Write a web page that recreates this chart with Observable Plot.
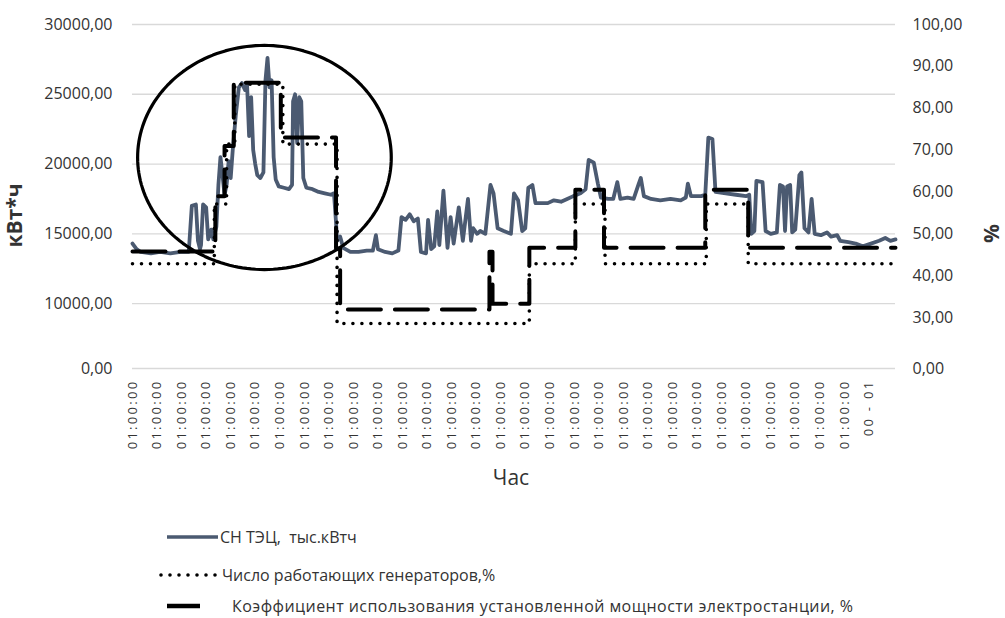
<!DOCTYPE html>
<html><head><meta charset="utf-8">
<script src="https://cdn.jsdelivr.net/npm/d3@7"></script>
<script src="https://cdn.jsdelivr.net/npm/@observablehq/plot@0.6"></script>
<style>
body{margin:0;background:#fff;font-family:"Open Sans",sans-serif;}
#chart{position:relative;width:1005px;height:618px;overflow:hidden;background:#fff}
g[aria-label="x-axis tick label"] text{letter-spacing:2.3px}
.leg{position:absolute;left:0;font-size:16px;color:#333;white-space:nowrap;line-height:20px}
</style></head><body><div id="chart"></div>
<script>
// СН ТЭЦ, тыс.кВтч (hour index, value)
const hours = [0,4,8,18,27,37,47,55,58,62,64,66,67,69,72,74,77,79,82,84,86,88,90,92,94,96,98,101,104,107,110,112,114,116,118,120,122,125,128,130,132,134,136,138,140,143,148,153,156,157,159,161,163,165,167,170,176,182,188,194,197,199,200,203,206,213,221,229,235,238,240,247,254,260,263,267,271,275,279,282,287,289,292,295,298,300,304,308,311,314,319,323,328,331,333,337,340,345,350,353,357,363,370,373,377,381,384,387,391,394,399,406,412,419,425,431,438,443,446,451,455,458,465,470,474,477,484,490,495,497,500,507,516,526,536,541,543,546,556,560,563,567,570,580,590,600,603,605,608,610,616,619,624,630,633,636,638,640,643,645,648,652,654,657,661,664,667,673,679,683,689,692,700,707,714,722,730,736,741,746];
const snValues = [14300,13900,13700,13600,13700,13600,13700,13700,17000,17100,14500,13900,14200,17100,16900,14600,15300,14600,15500,18500,20500,19200,17800,18500,20200,19000,21000,23500,25500,25800,25300,25700,22000,24800,21000,20000,19200,19000,19400,26000,27600,25500,26000,20500,18900,18400,18300,18200,18500,24500,25000,21500,24800,24500,19000,18300,18200,18000,17900,17800,17900,15800,14500,14800,14000,13700,13700,13800,13800,14900,13900,13700,13600,13800,16200,16000,16400,15900,16100,13700,13600,16000,13900,14100,16600,14200,18100,14000,16200,14300,16900,14500,17500,14500,15400,15000,15200,15000,18500,17900,15400,15200,15000,17900,17400,15200,15400,18300,18500,17200,17200,17200,17400,17300,17500,17700,17900,18200,20300,20100,18600,17600,17500,17500,18700,17500,17600,17500,18600,19000,17700,17500,17400,17500,17400,17600,18600,17700,17700,17800,21900,21800,18000,17900,17800,17700,17800,15000,15200,18800,18700,15200,15000,15100,18500,18400,15200,18400,18500,15100,15300,19200,19400,15400,15100,17500,15000,14900,15100,14800,14900,14500,14400,14300,14100,14300,14500,14700,14500,14600];
// Число работающих генераторов, % (step changes)
const genHours = [0,80,92,100,147,200,388,433,462,561,602,742];
const genPct = [42.86,57.14,71.43,85.71,71.43,28.57,42.86,57.14,42.86,57.14,42.86,42.86];
// Коэффициент использования установленной мощности, % (step changes)
const kiumHours = [0,81,90,99,145,199,203,349,352,388,433,461,560,602,746];
const kiumPct = [45.8,59.0,71.0,86.1,73.0,46.5,31.9,45.7,33.3,46.7,60.5,46.7,60.5,46.7,46.7];

const leftTicks = [0,10000,15000,20000,25000,30000];
const rightTicks = [0,30,40,50,60,70,80,90,100];
const xTickHours = [0,24,48,72,96,120,144,168,192,216,240,264,288,312,336,360,384,408,432,456,480,504,528,552,576,600,624,648,672,696,720];
const xTickLabels = ["01:00:00","01:00:00","01:00:00","01:00:00","01:00:00","01:00:00","01:00:00","01:00:00","01:00:00","01:00:00","01:00:00","01:00:00","01:00:00","01:00:00","01:00:00","01:00:00","01:00:00","01:00:00","01:00:00","01:00:00","01:00:00","01:00:00","01:00:00","01:00:00","01:00:00","01:00:00","01:00:00","01:00:00","01:00:00","01:00:00","00 - 01"];
const PCT_TO_KWH = 300; // right axis: 100% ↔ 30000
// axis break (as in the original): values below BREAK are compressed by factor SQUEEZE
const BREAK = 8000, SQUEEZE = 0.3314;
// highlight ellipse (center hour, center value, radius in hours, radius in value)
const ellipse = {cx:129, cy:20470, rx:124, ry:8030};

const brk = v => v >= BREAK ? v : BREAK - (BREAK - v)*SQUEEZE;
const unbrk = t => t >= BREAK ? t : BREAK - (BREAK - t)/SQUEEZE;
const fmt = d => (Math.round(d*100)/100 + 0).toFixed(2).replace(".", ",");

const sn = hours.map((h,i)=>({h, v:snValues[i]}));
const gen = genHours.map((h,i)=>({h, v:genPct[i]*PCT_TO_KWH}));
const kium = kiumHours.map((h,i)=>({h, v:kiumPct[i]*PCT_TO_KWH}));
const ell = d3.range(0, 361, 2).map(a=>({h: ellipse.cx + ellipse.rx*Math.cos(a*Math.PI/180), v: ellipse.cy + ellipse.ry*Math.sin(a*Math.PI/180)}));
const Y = d => brk(d.v);

const plot = Plot.plot({
  width:1005, height:505, marginLeft:132, marginRight:110, marginTop:24, marginBottom:137,
  style:{fontFamily:"'Open Sans', sans-serif", color:"#333", background:"transparent", overflow:"visible"},
  x:{domain:[0,746], axis:null},
  y:{domain:[brk(0),30000], axis:null},
  marks:[
    Plot.gridY(leftTicks.map(brk), {stroke:"#d9d9d9", strokeOpacity:1, strokeWidth:1.3}),
    Plot.axisY({anchor:"left", ticks:leftTicks.map(brk), tickSize:0, tickPadding:20, tickFormat:d=>fmt(Math.abs(unbrk(d))), label:null, fontSize:16}),
    Plot.axisY({anchor:"right", ticks:rightTicks.map(p=>brk(p*PCT_TO_KWH)), tickSize:0, tickPadding:17, tickFormat:d=>fmt(Math.abs(unbrk(d))/PCT_TO_KWH), label:null, fontSize:16}),
    Plot.axisX({ticks:xTickHours, tickFormat:d=>xTickLabels[xTickHours.indexOf(d)], tickRotate:-90, tickSize:0, tickPadding:11, label:null, fontSize:13}),
    Plot.line(sn, {x:"h", y:Y, stroke:"#4b5a71", strokeWidth:3.8, strokeLinejoin:"round"}),
    Plot.line(gen, {x:"h", y:Y, curve:"step-after", stroke:"#000", strokeWidth:3.6, strokeDasharray:"0 9", strokeLinecap:"round"}),
    Plot.line(kium, {x:"h", y:Y, curve:"step-after", stroke:"#000", strokeWidth:4, strokeDasharray:"33 14"}),
    Plot.line(ell, {x:"h", y:Y, stroke:"#000", strokeWidth:3.2, curve:"linear-closed"}),
    Plot.text(["кВт*ч"], {frameAnchor:"left", dx:-117, dy:19, rotate:-90, textAnchor:"middle", fontSize:21, fontWeight:"bold", fill:"#333"}),
    Plot.text(["%"], {frameAnchor:"right", dx:97, dy:37, rotate:-90, textAnchor:"middle", fontSize:21, fontWeight:"bold", fill:"#333"}),
    Plot.text(["Час"], {frameAnchor:"bottom", dx:-3, dy:116, fontSize:21, fill:"#333"})
  ]
});
const chart = document.getElementById("chart");
chart.appendChild(plot);

const legendItems = [
  {label:"СН ТЭЦ,  тыс.кВтч", top:527, x1:167, x2:218, tx:220, stroke:"#4b5a71", w:3.6, dash:null, cap:"butt", ls:0},
  {label:"Число работающих генераторов,%", top:565, x1:161, x2:218, tx:222, stroke:"#000", w:3.6, dash:"0 9", cap:"round", ls:0},
  {label:"Коэффициент использования установленной мощности электростанции, %", top:596, x1:167, x2:200, tx:232, stroke:"#000", w:4.5, dash:null, cap:"butt", ls:0.45}
];
for (const it of legendItems) {
  const d = document.createElement("div");
  d.className = "leg";
  d.style.top = it.top + "px";
  d.style.width = "1005px";
  d.innerHTML = `<svg width="1005" height="20" style="position:absolute;left:0;top:0"><line x1="${it.x1}" x2="${it.x2}" y1="10" y2="10" stroke="${it.stroke}" stroke-width="${it.w}" ${it.dash?`stroke-dasharray="${it.dash}"`:""} stroke-linecap="${it.cap}"/></svg><span style="position:absolute;left:${it.tx}px;top:0;letter-spacing:${it.ls}px">${it.label.replace(/  /g," &nbsp;")}</span>`;
  chart.appendChild(d);
}
</script></body></html>
